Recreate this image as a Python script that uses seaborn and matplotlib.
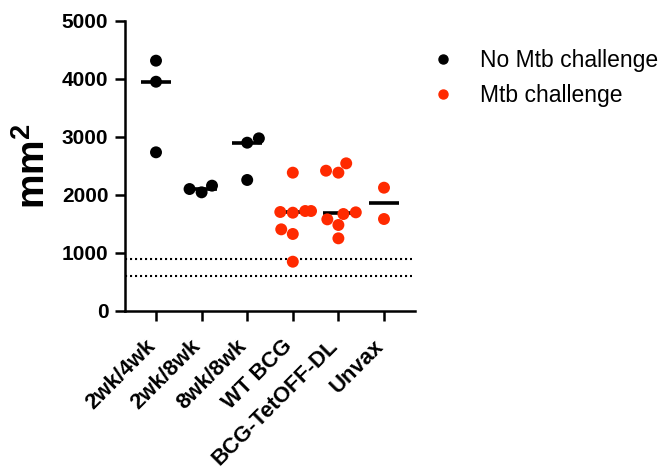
import matplotlib
matplotlib.use("Agg")
import matplotlib.pyplot as plt
import seaborn as sns
import pandas as pd
from matplotlib.lines import Line2D

# ---- data ----
groups = ["2wk/4wk", "2wk/8wk", "8wk/8wk", "WT BCG", "BCG-TetOFF-DL", "Unvax"]
group_challenge = ["No Mtb challenge", "No Mtb challenge", "No Mtb challenge",
                   "Mtb challenge", "Mtb challenge", "Mtb challenge"]
vals_2wk4wk = [4316, 3953, 2736]
vals_2wk8wk = [2046, 2161, 2103]
vals_8wk8wk = [2977, 2902, 2259]
vals_wtbcg = [2385, 1724, 1695, 1724, 1707, 1408, 1328, 850]
vals_tetoff = [2546, 2419, 2385, 1701, 1672, 1580, 1483, 1253]
vals_unvax = [2126, 1586]
ref_lines = [900, 600]
yticks = [0, 1000, 2000, 3000, 4000, 5000]
legend_labels = ["No Mtb challenge", "Mtb challenge"]

all_vals = [vals_2wk4wk, vals_2wk8wk, vals_8wk8wk, vals_wtbcg, vals_tetoff, vals_unvax]
rows = []
for g, ch, vs in zip(groups, group_challenge, all_vals):
    for v in vs:
        rows.append({"group": g, "challenge": ch, "value": v})
df = pd.DataFrame(rows)

colors = {"No Mtb challenge": "#000000", "Mtb challenge": "#ff2a00"}

sns.set_style("ticks")
plt.rcParams["font.family"] = ["Liberation Sans", "DejaVu Sans"]
plt.rcParams["mathtext.fontset"] = "custom"
plt.rcParams["mathtext.bf"] = "Liberation Sans:bold"
plt.rcParams["mathtext.rm"] = "Liberation Sans:bold"
for k in ["text.color", "axes.labelcolor", "xtick.color", "ytick.color",
          "axes.edgecolor"]:
    plt.rcParams[k] = "black"

fig = plt.figure(figsize=(6.66, 4.69), dpi=100)
ax = fig.add_axes([125 / 666, 1 - 311 / 469, 290 / 666, 290 / 469])

sns.swarmplot(data=df, x="group", y="value", hue="challenge", order=groups,
              hue_order=legend_labels, palette=colors, size=8.6, linewidth=0,
              legend=False, ax=ax, zorder=3)

# median lines
med = df.groupby("group")["value"].median()
for i, g in enumerate(groups):
    ax.hlines(med[g], i - 0.33, i + 0.33, color="black", lw=2.6, zorder=2)

# dotted reference lines
for r in ref_lines:
    ax.axhline(r, xmin=0, xmax=0.99, color="black", lw=1.5,
               linestyle=(0, (1, 1.4)), zorder=1)

ax.set_xlim(-0.68, 5.68)
ax.set_ylim(0, 5000)
ax.set_yticks(yticks)
ax.set_xlabel("")
ax.set_ylabel(r"mm$^{\mathbf{2}}$", fontsize=28, fontweight="bold")
ax.yaxis.set_label_coords(-0.25, 0.5)

for s in ["top", "right"]:
    ax.spines[s].set_visible(False)
for s in ["left", "bottom"]:
    ax.spines[s].set_linewidth(1.8)

ax.tick_params(axis="both", length=7, width=1.8)
ax.tick_params(axis="y", pad=5, labelsize=15)
ax.tick_params(axis="x", pad=19, labelsize=15.8)
for lab in ax.get_yticklabels():
    lab.set_fontweight("bold")
ax.set_xticks(range(len(groups)))
ax.set_xticklabels(groups, rotation=45, ha="right", va="baseline",
                   rotation_mode="anchor", fontweight="bold")

handles = [Line2D([], [], marker="o", linestyle="", color=colors[l],
                  markersize=6.5) for l in legend_labels]
fig.legend(handles, legend_labels, loc="upper left",
           bbox_to_anchor=(418 / 666, 1 - 38 / 469), frameon=False,
           fontsize=16.5, handletextpad=1.0, labelspacing=0.5,
           handlelength=1.2, borderpad=0)

fig.savefig("out.png", dpi=100)
